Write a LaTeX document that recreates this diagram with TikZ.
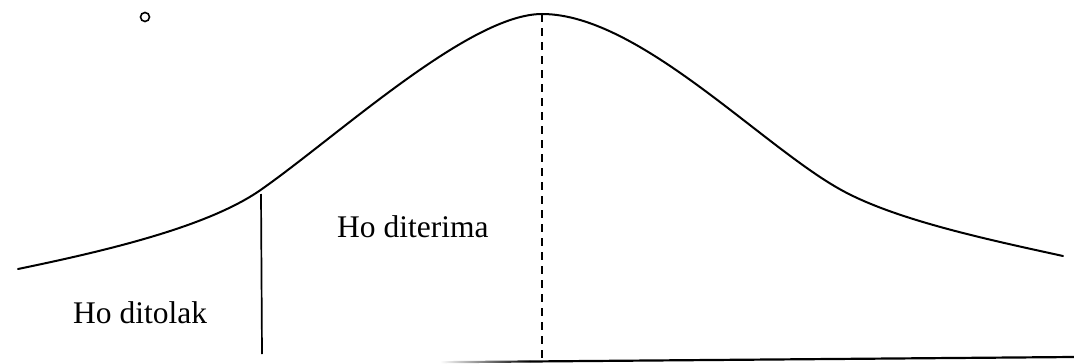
\documentclass[tikz,border=0pt]{standalone}
\usepackage{fontspec}
\setmainfont{Liberation Serif}
\begin{document}
\begin{tikzpicture}[x=1pt,y=-1pt,
  curveline/.style={line width=2pt,line cap=round},
  splitline/.style={line width=1.7pt},
  meanline/.style={line width=1.5pt,dash pattern=on 8pt off 6pt},
  lbl/.style={font=\fontsize{31.5}{34}\selectfont,anchor=base west,inner sep=0pt},
  degmark/.style={circle,draw,line width=1.6pt,inner sep=0pt,minimum size=9pt}]
\useasboundingbox (0,0) rectangle (1074,364);
% coordinates
\coordinate (lend) at (18,269);
\coordinate (ctop) at (262,189);
\coordinate (peak) at (542,14);
\coordinate (rin) at (845,192);
\coordinate (rend) at (1063,256);
\coordinate (stop) at (261,194);
\coordinate (cbot) at (262,354);
\coordinate (mbot) at (542,362);
\coordinate (b1) at (530,361.5);
\coordinate (b2) at (1074,357);
% bell curve
\draw[curveline] (lend) .. controls (110,250) and (210,226) .. (ctop)
  .. controls (340,134) and (470,14) .. (peak)
  .. controls (640,14) and (765,150) .. (rin)
  .. controls (900,221) and (990,240) .. (rend);
% vertical split line
\draw[splitline] (stop) -- (cbot);
% dashed mean line
\draw[meanline] (peak) -- (mbot);
% baseline with fade-in
\shade[left color=white,right color=black] (440,361.1) -- (530,360.4) -- (530,362.6) -- (440,363.3) -- cycle;
\draw[line width=2.2pt] (b1) -- (b2);
% labels
\node[lbl] (acc) at (337,237) {Ho diterima};
\node[lbl] (rej) at (73,323) {Ho ditolak};
\node[degmark] (deg) at (145,17) {};
\end{tikzpicture}
\end{document}
